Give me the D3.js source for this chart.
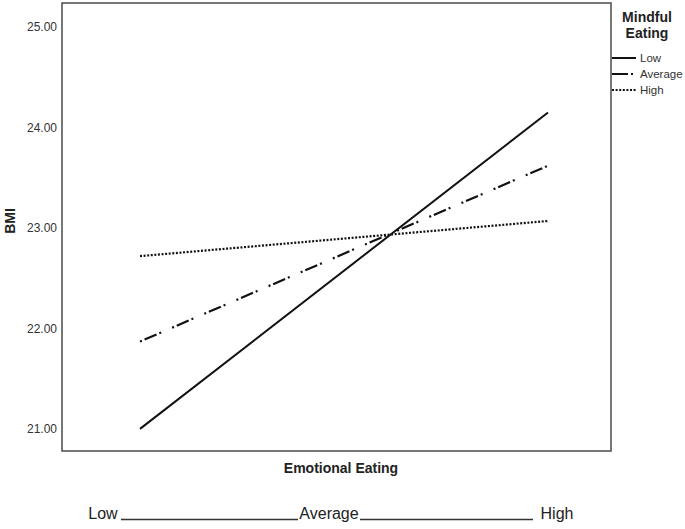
<!DOCTYPE html>
<html>
<head>
<meta charset="utf-8">
<script src="https://cdn.jsdelivr.net/npm/d3@7"></script>
<style>
  body { margin: 0; background: #fff; }
  text { font-family: "Liberation Sans", Arial, sans-serif; }
</style>
</head>
<body>
<script>
// values
var emotional = ["Low", "High"];
var mindfulLevels = ["Low", "Average", "High"];
var bmiLow = [21.00, 24.15];
var bmiAverage = [21.87, 23.62];
var bmiHigh = [22.72, 23.07];
var yTicks = [21, 22, 23, 24, 25];
var bottomLabels = ["Low", "Average", "High"];

var series = [
  { name: mindfulLevels[0], values: bmiLow, dash: null },
  { name: mindfulLevels[1], values: bmiAverage, dash: "2,3,13,3,2,12" },
  { name: mindfulLevels[2], values: bmiHigh, dash: "2,1.6" }
];

function draw_vis(width, height) {
  var svg = d3.select("body")
    .append("svg")
    .attr("width", width)
    .attr("height", height);

  var left = 62, top = 3, right = 611, bottom = 451;

  var x = d3.scalePoint()
    .domain(emotional)
    .range([140, 548]);

  var y = d3.scaleLinear()
    .domain([20.78, 25.24])
    .range([bottom, top]);

  // frame
  svg.append("rect")
    .attr("x", left)
    .attr("y", top)
    .attr("width", right - left)
    .attr("height", bottom - top)
    .attr("fill", "none")
    .attr("stroke", "#555")
    .attr("stroke-width", 1.6);

  var yAxis = svg.append("g")
    .attr("transform", "translate(" + left + ",0)")
    .call(d3.axisLeft(y).tickValues(yTicks).tickFormat(d3.format(".2f")).tickSize(0).tickPadding(5));
  yAxis.select(".domain").remove();
  yAxis.selectAll("text")
    .attr("font-size", 12)
    .attr("font-family", "Liberation Sans, Arial, sans-serif")
    .attr("fill", "#333");

  var line = d3.line()
    .x(function(d, i) { return x(emotional[i]); })
    .y(function(d) { return y(d); });

  svg.selectAll(".series")
    .data(series)
    .enter()
    .append("path")
      .attr("class", "series")
      .attr("d", function(d) { return line(d.values); })
      .attr("fill", "none")
      .attr("stroke", "#111")
      .attr("stroke-width", function(d) { return d.dash ? 2.2 : 2; })
      .attr("stroke-dasharray", function(d) { return d.dash; });

  // axis titles
  svg.append("text")
    .attr("x", 341)
    .attr("y", 473)
    .attr("text-anchor", "middle")
    .attr("font-size", 14)
    .attr("font-weight", "bold")
    .attr("fill", "#222")
    .text("Emotional Eating");

  svg.append("text")
    .attr("transform", "translate(15,221) rotate(-90)")
    .attr("text-anchor", "middle")
    .attr("font-size", 14)
    .attr("font-weight", "bold")
    .attr("fill", "#222")
    .text("BMI");

  // legend
  var lg = svg.append("g");
  lg.append("text")
    .attr("x", 647).attr("y", 22)
    .attr("text-anchor", "middle")
    .attr("font-size", 14).attr("font-weight", "bold").attr("fill", "#222")
    .text("Mindful");
  lg.append("text")
    .attr("x", 647).attr("y", 38)
    .attr("text-anchor", "middle")
    .attr("font-size", 14).attr("font-weight", "bold").attr("fill", "#222")
    .text("Eating");

  var item = lg.selectAll(".item")
    .data(series)
    .enter()
    .append("g")
      .attr("class", "item")
      .attr("transform", function(d, i) { return "translate(612," + (58 + i * 16) + ")"; });

  item.append("line")
    .attr("x1", 0).attr("x2", 24)
    .attr("stroke", "#111")
    .attr("stroke-width", 2)
    .attr("stroke-dasharray", function(d) { return d.name == "Average" ? "16,3,2,3" : d.dash; });

  item.append("text")
    .attr("x", 28)
    .attr("y", 4)
    .attr("font-size", 11.5)
    .attr("fill", "#333")
    .text(function(d) { return d.name; });

  // bottom scale labels
  var bx = [103, 329, 557];
  var bl = svg.append("g");
  bl.selectAll("text")
    .data(bottomLabels)
    .enter()
    .append("text")
      .attr("x", function(d, i) { return bx[i]; })
      .attr("y", 519)
      .attr("text-anchor", "middle")
      .attr("font-size", 16)
      .attr("fill", "#222")
      .text(function(d) { return d; });

  bl.append("line").attr("x1", 121).attr("x2", 298).attr("y1", 519.5).attr("y2", 519.5)
    .attr("stroke", "#333").attr("stroke-width", 1.3);
  bl.append("line").attr("x1", 360).attr("x2", 533).attr("y1", 519.5).attr("y2", 519.5)
    .attr("stroke", "#333").attr("stroke-width", 1.3);
}

draw_vis(685, 529);
</script>
</body>
</html>
